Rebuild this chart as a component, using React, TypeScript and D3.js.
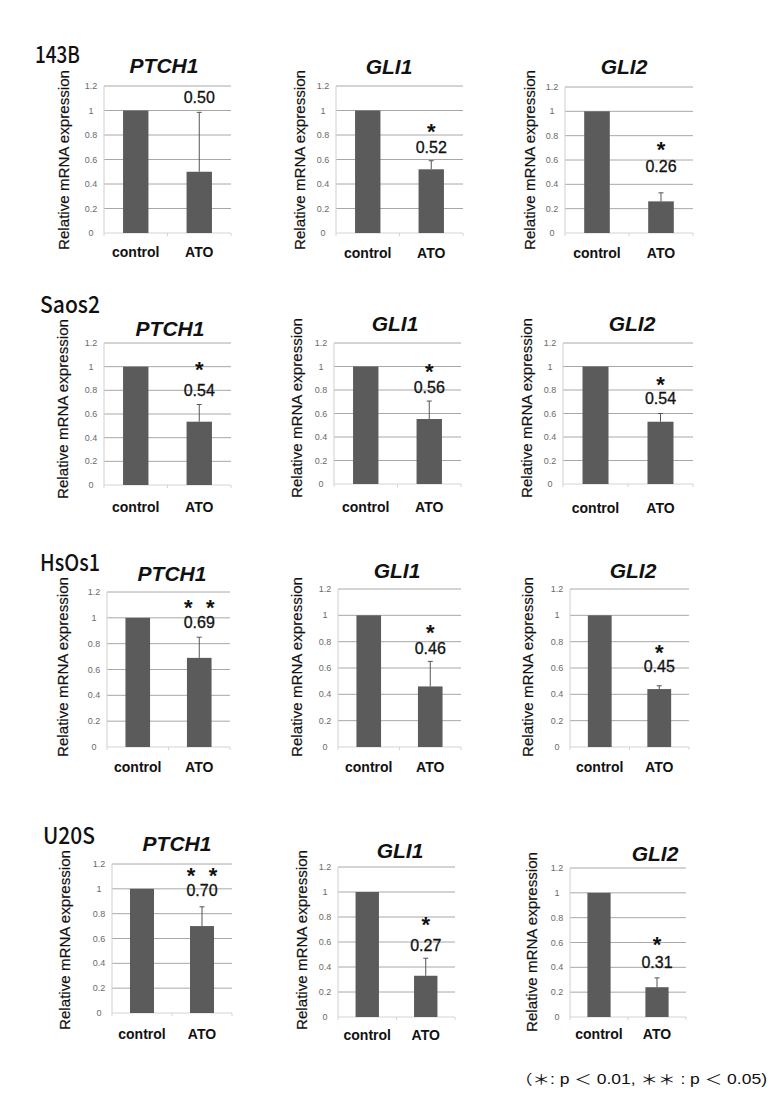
import React from 'react';
import * as d3 from 'd3';

// ---------- data ----------
const cellLines = ["143B", "Saos2", "HsOs1", "U20S"];
const genes = ["PTCH1", "GLI1", "GLI2"];
const categories = ["control", "ATO"];
const controlValues = [[1, 1, 1], [1, 1, 1], [1, 1, 1], [1, 1, 1]];
const atoValues = [[0.50, 0.52, 0.26], [0.535, 0.553, 0.53], [0.69, 0.46, 0.44], [0.70, 0.33, 0.24]];
const atoErrorTops = [[0.985, 0.59, 0.33], [0.68, 0.706, 0.60], [0.85, 0.65, 0.465], [0.855, 0.47, 0.315]];
const valueLabels = [["0.50", "0.52", "0.26"], ["0.54", "0.56", "0.54"], ["0.69", "0.46", "0.45"], ["0.70", "0.27", "0.31"]];
const starCounts = [[0, 1, 1], [1, 1, 1], [2, 1, 1], [2, 1, 1]];
const yTicks = [0, 0.2, 0.4, 0.6, 0.8, 1, 1.2];
const yTickLabels = ["0", "0.2", "0.4", "0.6", "0.8", "1", "1.2"];
const yAxisTitle = "Relative mRNA expression";
const footnote = "（＊: p ＜ 0.01,  ＊＊ : p ＜ 0.05)";

// ---------- layout ----------
type Frame = { x0: number; x1: number; yTop: number; yZero: number; titleX: number; titleY: number; ylabX: number; ylabY: number; catY: number; starY: number; labY: number };
const frames: Frame[][] = [
  [
    { x0: 104, x1: 231, yTop: 86, yZero: 233, titleX: 164, titleY: 65, ylabX: 64, ylabY: 160, catY: 252, starY: 0, labY: 97 },
    { x0: 336, x1: 463, yTop: 86, yZero: 233, titleX: 389, titleY: 66, ylabX: 300, ylabY: 160, catY: 253, starY: 127, labY: 147 },
    { x0: 565, x1: 693, yTop: 87, yZero: 233, titleX: 624, titleY: 66, ylabX: 530, ylabY: 160, catY: 253, starY: 145, labY: 166 },
  ],
  [
    { x0: 104, x1: 231, yTop: 343, yZero: 485, titleX: 170, titleY: 328, ylabX: 63, ylabY: 409, catY: 507, starY: 365, labY: 390 },
    { x0: 334, x1: 461, yTop: 343, yZero: 484, titleX: 395, titleY: 323, ylabX: 297, ylabY: 408, catY: 507, starY: 367, labY: 387 },
    { x0: 563, x1: 693, yTop: 343, yZero: 484, titleX: 632, titleY: 323, ylabX: 527, ylabY: 408, catY: 508, starY: 380, labY: 398 },
  ],
  [
    { x0: 107, x1: 230, yTop: 592, yZero: 747, titleX: 172, titleY: 573, ylabX: 63, ylabY: 667, catY: 767, starY: 603, labY: 622 },
    { x0: 338, x1: 461, yTop: 589, yZero: 747, titleX: 397, titleY: 570, ylabX: 297, ylabY: 667, catY: 767, starY: 628, labY: 648 },
    { x0: 570, x1: 689, yTop: 589, yZero: 747, titleX: 633, titleY: 570, ylabX: 528, ylabY: 667, catY: 767, starY: 648, labY: 666 },
  ],
  [
    { x0: 112, x1: 232, yTop: 864, yZero: 1013, titleX: 177, titleY: 843, ylabX: 65, ylabY: 940, catY: 1034, starY: 871, labY: 890 },
    { x0: 338, x1: 455, yTop: 867, yZero: 1017, titleX: 400, titleY: 850, ylabX: 302, ylabY: 940, catY: 1035, starY: 920, labY: 945 },
    { x0: 570, x1: 686, yTop: 868, yZero: 1017, titleX: 655, titleY: 853, ylabX: 532, ylabY: 942, catY: 1034, starY: 940, labY: 962 },
  ],
];
const cellLabelPos = [
  { x: 35, y: 55, w: 45 },
  { x: 40, y: 305, w: 60 },
  { x: 40, y: 563, w: 60 },
  { x: 43, y: 836, w: 52 },
];

const SANS = "'Liberation Sans', Arial, sans-serif";
const CJK = "'Noto Sans CJK JP', sans-serif";
const MIXED = "'Liberation Sans', 'Noto Sans CJK JP', sans-serif";
const BAR = '#5b5b5b';

function Panel({ r, c }: { r: number; c: number }) {
  const f = frames[r][c];
  const y = d3.scaleLinear().domain([0, 1.2]).range([f.yZero, f.yTop]);
  const x = d3.scaleBand<string>().domain(categories).range([f.x0, f.x1]).paddingInner(0.6).paddingOuter(0.3);
  const bw = x.bandwidth();
  const vals = [controlValues[r][c], atoValues[r][c]];
  const atoX = (x('ATO') as number) + bw / 2;
  const errTop = atoErrorTops[r][c];
  const stars = starCounts[r][c];
  return (
    <g>
      {yTicks.filter((t) => t > 0).map((t) => (
        <line key={t} x1={f.x0} x2={f.x1} y1={y(t)} y2={y(t)} stroke="#a8a8a8" strokeWidth={1} />
      ))}
      <line x1={f.x0} x2={f.x0} y1={y(1.2)} y2={y(0)} stroke="#cfcfcf" strokeWidth={1} />
      <line x1={f.x0} x2={f.x1} y1={y(0)} y2={y(0)} stroke="#d4d4d4" strokeWidth={1} />
      {[f.x0, (f.x0 + f.x1) / 2, f.x1].map((tx, i) => (
        <line key={i} x1={tx} x2={tx} y1={y(0)} y2={y(0) + 3} stroke="#d4d4d4" strokeWidth={1} />
      ))}
      {yTicks.map((t, i) => (
        <text key={t} x={f.x0 - 13} y={y(t)} dy="0.35em" textAnchor="middle" fontSize={9} fill="#6a6a6a" fontFamily={SANS}>
          {yTickLabels[i]}
        </text>
      ))}
      {categories.map((cat, i) => (
        <rect key={cat} x={x(cat)} y={y(vals[i])} width={bw} height={y(0) - y(vals[i])} fill={BAR} />
      ))}
      <line x1={atoX} x2={atoX} y1={y(atoValues[r][c])} y2={y(errTop)} stroke="#555" strokeWidth={1} />
      <line x1={atoX - 2.5} x2={atoX + 2.5} y1={y(errTop)} y2={y(errTop)} stroke="#555" strokeWidth={1} />
      {categories.map((cat) => (
        <text key={cat} x={(x(cat) as number) + bw / 2} y={f.catY} dy="0.35em" textAnchor="middle" fontSize={14} fontWeight="bold" fill="#111" fontFamily={SANS}>
          {cat}
        </text>
      ))}
      {stars === 1 && (
        <text x={atoX} y={f.starY + 12} textAnchor="middle" fontSize={22} fontWeight="bold" fill="#111" fontFamily={SANS}>*</text>
      )}
      {stars === 2 && [-11, 11].map((dx) => (
        <text key={dx} x={atoX + dx} y={f.starY + 12} textAnchor="middle" fontSize={22} fontWeight="bold" fill="#111" fontFamily={SANS}>*</text>
      ))}
      <text x={atoX} y={f.labY} dy="0.36em" textAnchor="middle" fontSize={16} fill="#111" fontFamily={SANS} stroke="#111" strokeWidth={0.3}>
        {valueLabels[r][c]}
      </text>
      <text x={f.titleX} y={f.titleY} dy="0.36em" textAnchor="middle" fontSize={21} fontWeight="bold" fontStyle="italic" fill="#111" fontFamily={SANS}>
        {genes[c]}
      </text>
      <text transform={`translate(${f.ylabX},${f.ylabY}) rotate(-90)`} dy="0.35em" textAnchor="middle" fontSize={15} fill="#111" fontFamily={SANS} stroke="#111" strokeWidth={0.2} textLength={180} lengthAdjust="spacingAndGlyphs">
        {yAxisTitle}
      </text>
    </g>
  );
}

export default function App() {
  return (
    <svg width={773} height={1103} viewBox="0 0 773 1103" style={{ position: 'absolute', left: 0, top: 0, background: '#fff' }}>
      <rect x={0} y={0} width={773} height={1103} fill="#fff" />
      {cellLines.map((cl, r) => (
        <g key={cl}>
          <text x={cellLabelPos[r].x} y={cellLabelPos[r].y} dy="0.36em" fontSize={23} fontWeight={500} fill="#111" fontFamily={CJK} textLength={cellLabelPos[r].w} lengthAdjust="spacingAndGlyphs">
            {cl}
          </text>
          {genes.map((g, c) => (
            <Panel key={g} r={r} c={c} />
          ))}
        </g>
      ))}
      <text x={515} y={1079} dy="0.36em" fontSize={14} fill="#111" fontFamily={MIXED} textLength={252} lengthAdjust="spacingAndGlyphs">
        {footnote}
      </text>
    </svg>
  );
}
